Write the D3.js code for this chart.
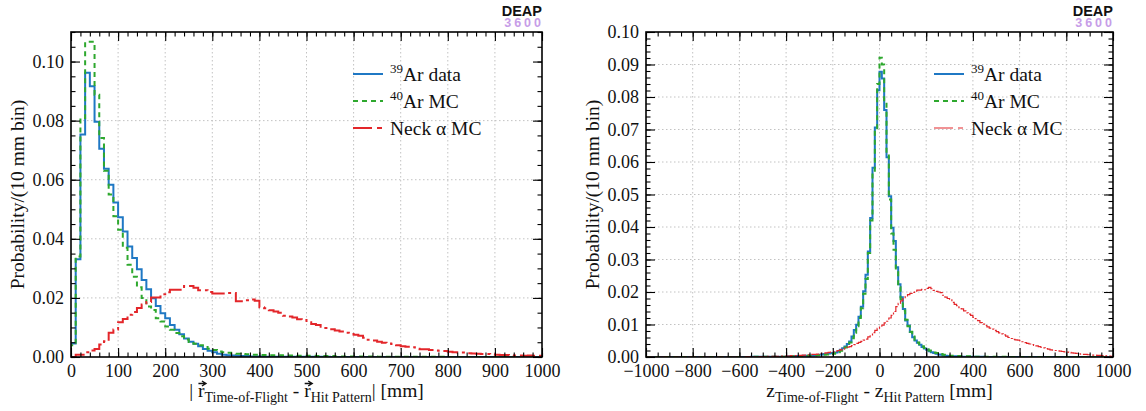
<!DOCTYPE html>
<html>
<head>
<meta charset="utf-8">
<script src="https://cdn.jsdelivr.net/npm/d3@7"></script>
<style>
  body { margin: 0; background: #fff; }
  svg { display: block; }
  svg text { font-family: "Liberation Serif", "Times New Roman", serif; fill: #111; }
</style>
</head>
<body>
<div id="chart"></div>
<script>
// ------------------------- data ------------------------//

var binWidth = 10;

// |r_TOF - r_HitPattern| , 10 mm bins starting at 0
var rStart = 0;
var rAr39 = [
  0.0046,0.0331,0.0753,0.0962,0.0916,0.0796,0.0705,0.0637,0.0583,0.0523,
  0.0473,0.0425,0.0374,0.0335,0.0297,0.0261,0.0229,0.0199,0.0173,0.0148,
  0.0131,0.0108,0.0092,0.0077,0.0063,0.0052,0.0045,0.0036,0.0027,0.0021,
  0.0016,0.0011,0.0008,0.0006,0.0005,0.0004,0.0003,0.0003,0.0002,0.0002,
  0.0002,0.0001,0.0001,0.0001,0.0001,0.0001,0.0001,0.0001,0.0001,0.0001,
  0.0001,0.0001,0.0001,0.0001,0.0001,0,0,0,0,0,
  0,0,0,0,0,0,0,0,0,0,
  0,0,0,0,0,0,0,0,0,0,
  0,0,0,0,0,0,0,0,0,0,
  0,0,0,0,0,0,0,0,0,0
];
var rAr40 = [
  0.0040,0.0340,0.0809,0.1067,0.1067,0.0888,0.0741,0.0630,0.0550,0.0476,
  0.0431,0.0370,0.0312,0.0272,0.0236,0.0200,0.0171,0.0159,0.0131,0.0120,
  0.0103,0.0092,0.0081,0.0070,0.0059,0.0051,0.0045,0.0040,0.0034,0.0028,
  0.0024,0.0019,0.0016,0.0014,0.0012,0.0011,0.0010,0.0009,0.0008,0.0008,
  0.0007,0.0007,0.0006,0.0006,0.0006,0.0005,0.0005,0.0005,0.0004,0.0004,
  0.0004,0.0004,0.0003,0.0003,0.0003,0.0003,0.0002,0.0002,0.0002,0.0002,
  0.0002,0.0002,0.0002,0.0002,0.0002,0.0001,0.0001,0.0001,0.0001,0.0001,
  0.0001,0.0001,0.0001,0.0001,0.0001,0.0001,0.0001,0.0001,0.0001,0.0001,
  0,0,0,0,0,0,0,0,0,0,
  0,0,0,0,0,0,0,0,0,0
];
var rNeck = [
  0.0000,0.0008,0.0008,0.0016,0.0022,0.0027,0.0042,0.0053,0.0082,0.0093,
  0.0118,0.0129,0.0143,0.0152,0.0166,0.0178,0.0186,0.0201,0.0201,0.0212,
  0.0219,0.0228,0.0228,0.0228,0.0240,0.0240,0.0234,0.0226,0.0226,0.0220,
  0.0215,0.0215,0.0215,0.0217,0.0217,0.0189,0.0189,0.0192,0.0195,0.0190,
  0.0168,0.0165,0.0158,0.0154,0.0150,0.0140,0.0137,0.0134,0.0128,0.0125,
  0.0118,0.0112,0.0108,0.0102,0.0098,0.0094,0.0090,0.0086,0.0082,0.0078,
  0.0075,0.0072,0.0065,0.0058,0.0056,0.0052,0.0048,0.0046,0.0044,0.0040,
  0.0036,0.0035,0.0033,0.0028,0.0026,0.0026,0.0024,0.0022,0.0021,0.0020,
  0.0018,0.0016,0.0015,0.0015,0.0013,0.0012,0.0011,0.0010,0.0010,0.0009,
  0.0008,0.0007,0.0007,0.0006,0.0005,0.0005,0.0004,0.0005,0.0004,0.0004
];

// z_TOF - z_HitPattern , 10 mm bins starting at -1000
var zStart = -1000;
var zAr39 = [
  0,0,0,0,0,0,0,0,0,0,
  0,0,0,0,0,0,0,0,0,0,
  0,0,0,0,0,0,0,0,0,0,
  0,0,0,0,0,0,0,0,0,0,
  0,0,0,0,0,0.0001,0.0001,0.0001,0.0001,0.0001,
  0.0001,0.0001,0.0001,0.0001,0.0001,0.0001,0.0001,0.0001,0.0001,0.0001,
  0.0001,0.0002,0.0002,0.0002,0.0003,0.0003,0.0003,0.0004,0.0004,0.0004,
  0.0005,0.0005,0.0006,0.0006,0.0007,0.0008,0.0009,0.0010,0.0011,0.0012,
  0.0012,0.0014,0.0017,0.0022,0.0027,0.0032,0.0040,0.0048,0.0063,0.0083,
  0.0099,0.0124,0.0155,0.0202,0.0253,0.0325,0.0428,0.0582,0.0706,0.0821,
  0.0878,0.0857,0.0760,0.0615,0.0495,0.0398,0.0357,0.0276,0.0224,0.0184,
  0.0148,0.0112,0.0097,0.0077,0.0061,0.0051,0.0044,0.0038,0.0031,0.0026,
  0.0022,0.0018,0.0015,0.0012,0.0010,0.0008,0.0007,0.0005,0.0004,0.0003,
  0.0002,0.0002,0.0002,0.0002,0.0002,0.0001,0.0001,0.0001,0.0001,0.0001,
  0.0001,0.0001,0.0001,0.0001,0.0001,0,0,0,0,0,
  0,0,0,0,0,0,0,0,0,0,
  0,0,0,0,0,0,0,0,0,0,
  0,0,0,0,0,0,0,0,0,0,
  0,0,0,0,0,0,0,0,0,0,
  0,0,0,0,0,0,0,0,0,0
];
var zAr40 = [
  0,0,0,0,0,0,0,0,0,0,
  0,0,0,0,0,0,0,0,0,0,
  0,0,0,0,0,0,0,0,0,0,
  0,0,0,0,0,0,0,0,0,0,
  0,0,0,0,0,0.0001,0.0001,0.0001,0.0001,0.0001,
  0.0001,0.0001,0.0001,0.0001,0.0001,0.0001,0.0001,0.0001,0.0001,0.0001,
  0.0001,0.0001,0.0002,0.0002,0.0002,0.0003,0.0003,0.0003,0.0004,0.0004,
  0.0004,0.0005,0.0005,0.0006,0.0006,0.0007,0.0007,0.0008,0.0009,0.0009,
  0.0010,0.0012,0.0015,0.0019,0.0024,0.0029,0.0036,0.0045,0.0058,0.0075,
  0.0095,0.0120,0.0150,0.0195,0.0240,0.0320,0.0420,0.0566,0.0700,0.0840,
  0.0921,0.0900,0.0786,0.0620,0.0485,0.0380,0.0330,0.0265,0.0215,0.0178,
  0.0143,0.0115,0.0095,0.0078,0.0063,0.0053,0.0045,0.0039,0.0033,0.0028,
  0.0024,0.0020,0.0017,0.0014,0.0012,0.0010,0.0009,0.0007,0.0006,0.0005,
  0.0004,0.0004,0.0003,0.0003,0.0003,0.0002,0.0002,0.0002,0.0002,0.0002,
  0.0001,0.0001,0.0001,0.0001,0.0001,0.0001,0.0001,0.0001,0.0001,0.0001,
  0.0001,0.0001,0.0001,0.0001,0.0001,0,0,0,0,0,
  0,0,0,0,0,0,0,0,0,0,
  0,0,0,0,0,0,0,0,0,0,
  0,0,0,0,0,0,0,0,0,0,
  0,0,0,0,0,0,0,0,0,0
];
var zNeck = [
  0,0,0,0,0,0,0,0,0,0,
  0,0,0,0,0,0,0,0,0,0,
  0,0,0,0,0,0,0,0,0,0,
  0,0,0,0,0,0,0,0,0,0,
  0,0,0,0.0001,0.0001,0.0001,0.0001,0.0001,0.0001,0.0001,
  0.0001,0.0001,0.0002,0.0002,0.0002,0.0002,0.0002,0.0003,0.0003,0.0003,
  0.0003,0.0003,0.0004,0.0004,0.0004,0.0005,0.0005,0.0006,0.0006,0.0007,
  0.0007,0.0008,0.0008,0.0009,0.0010,0.0011,0.0012,0.0013,0.0014,0.0015,
  0.0016,0.0018,0.0020,0.0022,0.0024,0.0027,0.0030,0.0032,0.0035,0.0038,
  0.0042,0.0045,0.0048,0.0052,0.0055,0.0062,0.0068,0.0075,0.0082,0.0088,
  0.0092,0.0098,0.0105,0.0110,0.0120,0.0128,0.0140,0.0155,0.0165,0.0173,
  0.0180,0.0186,0.0192,0.0196,0.0199,0.0203,0.0206,0.0206,0.0208,0.0207,
  0.0211,0.0214,0.0210,0.0205,0.0202,0.0200,0.0198,0.0190,0.0184,0.0180,
  0.0178,0.0168,0.0162,0.0158,0.0152,0.0148,0.0142,0.0136,0.0132,0.0128,
  0.0122,0.0118,0.0112,0.0106,0.0101,0.0097,0.0093,0.0089,0.0086,0.0082,
  0.0078,0.0074,0.0071,0.0068,0.0064,0.0060,0.0057,0.0054,0.0053,0.0052,
  0.0050,0.0047,0.0044,0.0042,0.0040,0.0038,0.0036,0.0034,0.0032,0.0030,
  0.0028,0.0026,0.0024,0.0022,0.0021,0.0020,0.0019,0.0018,0.0017,0.0016,
  0.0015,0.0014,0.0013,0.0012,0.0011,0.0010,0.0009,0.0008,0.0008,0.0007,
  0.0007,0.0006,0.0006,0.0005,0.0005,0.0004,0.0004,0.0003,0.0003,0.0002
];

// tick labels
var rXTicks = [0, 100, 200, 300, 400, 500, 600, 700, 800, 900, 1000];
var rYTicks = [0, 0.02, 0.04, 0.06, 0.08, 0.10];
var zXTicks = [-1000, -800, -600, -400, -200, 0, 200, 400, 600, 800, 1000];
var zYTicks = [0, 0.01, 0.02, 0.03, 0.04, 0.05, 0.06, 0.07, 0.08, 0.09, 0.10];

var legendSup = ["39", "40", ""];
var legendText = ["Ar data", "Ar MC", "Neck \u03b1 MC"];

// ------------------------- svg init ------------------------//

var W = 1146, H = 411;
var colors = ["#1f78c4", "#2ea82e", "#e3262a"];
var serif = "'Liberation Serif', 'Times New Roman', serif";

var svg = d3.select("#chart").append("svg")
  .attr("width", W)
  .attr("height", H);

var panels = [
  { id: "r", left: 71, right: 542, top: 32, bottom: 357,
    xdom: [0, 1000], ydom: [0, 0.11], xTicks: rXTicks, yTicks: rYTicks,
    xMinor: 20, yMinor: 0.005, start: rStart,
    series: [rAr39, rAr40, rNeck],
    widths: [2, 2, 2], dashes: [null, "5,4", "16,4,3,4"],
    legX: 353, legY: 74 },
  { id: "z", left: 646, right: 1113, top: 32, bottom: 357,
    xdom: [-1000, 1000], ydom: [0, 0.10], xTicks: zXTicks, yTicks: zYTicks,
    xMinor: 50, yMinor: 0.002, start: zStart,
    series: [zAr39, zAr40, zNeck],
    widths: [2, 2, 1.2], dashes: [null, "5,4", "8,2,2,2"],
    legX: 934, legY: 74 }
];

panels.forEach(drawPanel);

// ------------------------------  Functions --------------------------------//

function drawPanel(p) {
  var x = d3.scaleLinear().domain(p.xdom).range([p.left, p.right]);
  var y = d3.scaleLinear().domain(p.ydom).range([p.bottom, p.top]);
  var g = svg.append("g");

  // dotted grid at major ticks
  g.append("g").selectAll("line")
    .data(p.xTicks.slice(1, -1))
    .join("line")
    .attr("x1", function (d) { return x(d); })
    .attr("x2", function (d) { return x(d); })
    .attr("y1", p.top).attr("y2", p.bottom)
    .attr("stroke", "#c2c2c2").attr("stroke-width", 1)
    .attr("stroke-dasharray", "1.5,2.5");
  g.append("g").selectAll("line")
    .data(p.yTicks.slice(1, -1))
    .join("line")
    .attr("y1", function (d) { return y(d); })
    .attr("y2", function (d) { return y(d); })
    .attr("x1", p.left).attr("x2", p.right)
    .attr("stroke", "#c2c2c2").attr("stroke-width", 1)
    .attr("stroke-dasharray", "1.5,2.5");

  // histograms
  g.append("clipPath").attr("id", "clip-" + p.id)
    .append("rect")
    .attr("x", p.left).attr("y", p.top)
    .attr("width", p.right - p.left).attr("height", p.bottom - p.top);

  var line = d3.line()
    .x(function (d) { return x(d[0]); })
    .y(function (d) { return y(d[1]); })
    .curve(d3.curveStepAfter);

  p.series.forEach(function (vals, k) {
    var pts = [[p.start, 0]];
    vals.forEach(function (v, i) { pts.push([p.start + i * binWidth, v]); });
    pts.push([p.start + vals.length * binWidth, vals[vals.length - 1]]);
    g.append("path")
      .attr("clip-path", "url(#clip-" + p.id + ")")
      .attr("d", line(pts))
      .attr("fill", "none")
      .attr("stroke", colors[k])
      .attr("stroke-width", p.widths[k])
      .attr("stroke-dasharray", p.dashes[k]);
  });

  // axes, ticks inward on four sides
  var xMinorVals = d3.range(p.xdom[0], p.xdom[1] + 1e-9, p.xMinor);
  var yMinorVals = d3.range(0, p.ydom[1] + 1e-9, p.yMinor);

  function ax(gen, tr, vals, size, fmt) {
    var a = g.append("g").attr("transform", tr)
      .call(gen.tickValues(vals).tickSizeInner(size).tickSizeOuter(0)
        .tickPadding(fmt ? 7 : 0)
        .tickFormat(fmt || ""));
    a.select(".domain").remove();
    a.selectAll(".tick line").attr("stroke", "#000").attr("stroke-width", 1.1);
    a.attr("font-family", null).attr("font-size", null);
    a.selectAll("text")
      .style("font-family", serif)
      .style("font-size", "18px")
      .style("fill", "#111");
    return a;
  }

  var fx = d3.format("d");
  var fy = d3.format(".2f");

  ax(d3.axisBottom(x), "translate(0," + p.bottom + ")", p.xTicks, -9, fx);
  ax(d3.axisBottom(x), "translate(0," + p.bottom + ")", xMinorVals, -4.5, null);
  ax(d3.axisTop(x), "translate(0," + p.top + ")", p.xTicks, -9, null);
  ax(d3.axisTop(x), "translate(0," + p.top + ")", xMinorVals, -4.5, null);

  ax(d3.axisLeft(y), "translate(" + p.left + ",0)", p.yTicks, -9, fy);
  ax(d3.axisLeft(y), "translate(" + p.left + ",0)", yMinorVals, -4.5, null);
  ax(d3.axisRight(y), "translate(" + p.right + ",0)", p.yTicks, -9, null);
  ax(d3.axisRight(y), "translate(" + p.right + ",0)", yMinorVals, -4.5, null);

  // frame
  g.append("rect")
    .attr("x", p.left).attr("y", p.top)
    .attr("width", p.right - p.left).attr("height", p.bottom - p.top)
    .attr("fill", "none").attr("stroke", "#000").attr("stroke-width", 1.6);

  // y title
  g.append("text")
    .attr("transform", "translate(" + (p.left - 47.5) + "," + ((p.top + p.bottom) / 2) + ") rotate(-90)")
    .attr("text-anchor", "middle")
    .style("font-size", "19.5px")
    .text("Probability/(10 mm bin)");

  // x title
  var cx = (p.left + p.right) / 2;
  var t = g.append("text")
    .attr("x", cx).attr("y", 397)
    .attr("text-anchor", "middle")
    .style("font-size", "19.5px");
  var arrows = [];
  if (p.id === "r") {
    t.append("tspan").text("| ");
    arrows.push(t.append("tspan").text("r"));
    t.append("tspan").attr("dy", 4.5).style("font-size", "14px").text("Time-of-Flight");
    t.append("tspan").attr("dy", -4.5).text(" - ");
    arrows.push(t.append("tspan").text("r"));
    t.append("tspan").attr("dy", 4.5).style("font-size", "14px").text("Hit Pattern");
    t.append("tspan").attr("dy", -4.5).text("| [mm]");
  } else {
    t.append("tspan").text("z");
    t.append("tspan").attr("dy", 4.5).style("font-size", "14px").text("Time-of-Flight");
    t.append("tspan").attr("dy", -4.5).text(" - z");
    t.append("tspan").attr("dy", 4.5).style("font-size", "14px").text("Hit Pattern");
    t.append("tspan").attr("dy", -4.5).text(" [mm]");
  }
  arrows.forEach(function (ts) {
    var b = ts.node().getExtentOfChar(0);
    var ax0 = b.x + 0.5, ax1 = b.x + b.width + 1.5, ay = 397 - 13.5;
    g.append("path")
      .attr("d", "M" + ax0 + "," + ay + "H" + ax1 +
        "M" + (ax1 - 4) + "," + (ay - 2.5) + "L" + ax1 + "," + ay + "L" + (ax1 - 4) + "," + (ay + 2.5))
      .attr("fill", "none").attr("stroke", "#111").attr("stroke-width", 1.4);
  });

  // legend
  var leg = g.append("g");
  legendText.forEach(function (txt, k) {
    var ly = p.legY + k * 27;
    leg.append("line")
      .attr("x1", p.legX).attr("x2", p.legX + 30)
      .attr("y1", ly).attr("y2", ly)
      .attr("stroke", colors[k])
      .attr("stroke-width", p.widths[k])
      .attr("stroke-dasharray", k === 2 ? "19,5,5,5" : p.dashes[k]);
    var lt = leg.append("text")
      .attr("x", p.legX + 37).attr("y", ly + 7)
      .style("font-size", "19.5px");
    if (legendSup[k]) {
      lt.append("tspan").attr("dy", -8).style("font-size", "13px").text(legendSup[k]);
      lt.append("tspan").attr("dy", 8).text(txt);
    } else {
      lt.append("tspan").text(txt);
    }
  });

  // DEAP-3600 mark
  g.append("text")
    .attr("x", p.right).attr("y", 16)
    .attr("text-anchor", "end")
    .style("font-family", "'Liberation Sans', Arial, sans-serif")
    .style("font-weight", "bold")
    .style("font-size", "14.5px")
    .text("DEAP");
  g.append("text")
    .attr("x", p.right + 2).attr("y", 27)
    .attr("text-anchor", "end")
    .style("font-family", "'Liberation Sans', Arial, sans-serif")
    .style("font-weight", "bold")
    .style("font-size", "12.5px")
    .style("letter-spacing", "3px")
    .style("fill", "#c79de8")
    .text("3600");
}
</script>
</body>
</html>
